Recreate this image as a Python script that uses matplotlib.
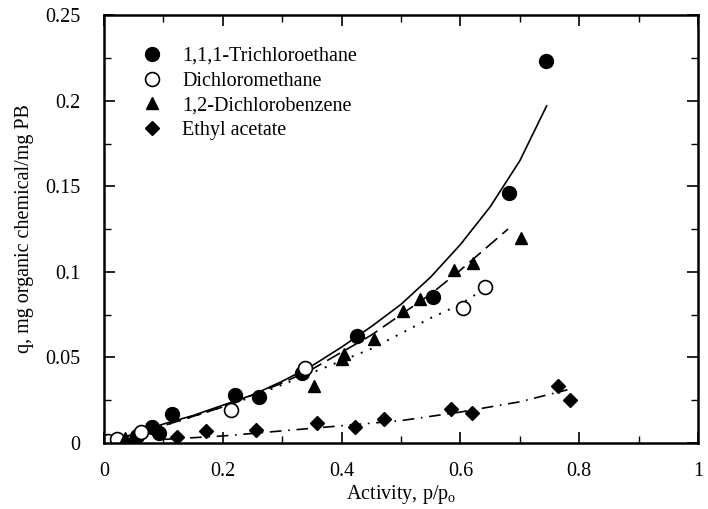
import matplotlib
matplotlib.use('Agg')
import matplotlib.pyplot as plt
from matplotlib.ticker import MultipleLocator

plt.rcParams['font.family'] = ['Liberation Serif', 'DejaVu Serif']
plt.rcParams['mathtext.fontset'] = 'custom'
plt.rcParams['mathtext.rm'] = 'Liberation Serif'
plt.rcParams['mathtext.it'] = 'Liberation Serif'

# measured points (activity, q)
tca_x = [0.055, 0.080, 0.092, 0.115, 0.221, 0.260, 0.334, 0.426, 0.554, 0.681, 0.744]
tca_y = [0.004, 0.009, 0.006, 0.017, 0.028, 0.027, 0.041, 0.0625, 0.085, 0.146, 0.223]

dcm_x = [0.007, 0.021, 0.063, 0.213, 0.338, 0.604, 0.642]
dcm_y = [0.001, 0.002, 0.0065, 0.019, 0.044, 0.079, 0.091]

dcb_x = [0.035, 0.085, 0.354, 0.400, 0.404, 0.454, 0.504, 0.532, 0.589, 0.621, 0.702]
dcb_y = [0.003, 0.009, 0.033, 0.049, 0.052, 0.061, 0.077, 0.084, 0.101, 0.105, 0.120]

ea_x = [0.048, 0.123, 0.171, 0.255, 0.359, 0.423, 0.471, 0.584, 0.619, 0.764, 0.784]
ea_y = [0.001, 0.0035, 0.007, 0.0076, 0.0117, 0.0095, 0.014, 0.020, 0.0175, 0.033, 0.025]

# fitted curves
tca_fit_x = [0, 0.05, 0.1, 0.15, 0.2, 0.25, 0.3, 0.35, 0.4, 0.45, 0.5, 0.55, 0.6, 0.65, 0.7, 0.745]
tca_fit_y = [0, 0.005, 0.011, 0.016, 0.022, 0.028, 0.036, 0.045, 0.056, 0.068, 0.081, 0.097, 0.116, 0.138, 0.165, 0.197]

dcb_fit_x = [0, 0.1, 0.2, 0.3, 0.35, 0.4, 0.45, 0.5, 0.55, 0.6, 0.65, 0.68]
dcb_fit_y = [0, 0.010, 0.021, 0.035, 0.043, 0.053, 0.063, 0.075, 0.087, 0.101, 0.116, 0.125]

dcm_fit_x = [0, 0.1, 0.2, 0.25, 0.3, 0.35, 0.4, 0.45, 0.5, 0.55, 0.6, 0.64]
dcm_fit_y = [0, 0.010, 0.021, 0.027, 0.034, 0.041, 0.048, 0.055, 0.064, 0.073, 0.081, 0.090]

ea_fit_x = [0.1, 0.2, 0.3, 0.4, 0.5, 0.6, 0.7, 0.78]
ea_fit_y = [0.002, 0.004, 0.007, 0.010, 0.013, 0.018, 0.024, 0.031]

x_ticks = [0, 0.2, 0.4, 0.6, 0.8, 1.0]
x_tick_labels = ['0', '0.2', '0.4', '0.6', '0.8', '1']
y_ticks = [0, 0.05, 0.1, 0.15, 0.2, 0.25]
y_tick_labels = ['0', '0.05', '0.1', '0.15', '0.2', '0.25']

fig = plt.figure(figsize=(7.08, 5.09), dpi=100)
ax = fig.add_axes([0.147, 0.130, 0.839, 0.840])

ax.plot(tca_fit_x, tca_fit_y, color='black', lw=1.2, ls='-')
ax.plot(dcb_fit_x, dcb_fit_y, color='black', lw=1.2, ls=(0, (9, 4)))
ax.plot(dcm_fit_x, dcm_fit_y, color='black', lw=1.4, ls=(0, (1, 4)))
ax.plot(ea_fit_x, ea_fit_y, color='black', lw=1.2, ls=(0, (7, 4, 1, 4)))

ax.plot(tca_x, tca_y, 'o', ms=10, mfc='black', mec='black', ls='none',
        label='1,1,1-Trichloroethane')
ax.plot(dcm_x, dcm_y, 'o', ms=10, mfc='white', mec='black', mew=1.2, ls='none',
        label='Dichloromethane')
ax.plot(dcb_x, dcb_y, '^', ms=9, mfc='black', mec='black', ls='none',
        label='1,2-Dichlorobenzene')
ax.plot(ea_x, ea_y, 'D', ms=7, mfc='black', mec='black', ls='none',
        label='Ethyl acetate')

ax.set_xlim(0, 1)
ax.set_ylim(0, 0.25)
ax.set_xticks(x_ticks)
ax.set_xticklabels(x_tick_labels)
ax.set_yticks(y_ticks)
ax.set_yticklabels(y_tick_labels)
ax.xaxis.set_minor_locator(MultipleLocator(0.1))
ax.yaxis.set_minor_locator(MultipleLocator(0.025))
ax.tick_params(which='both', direction='in', top=True, right=True, labelsize=14.5)
ax.tick_params(which='major', length=8, width=1.2)
ax.tick_params(which='minor', length=5, width=1.0)
ax.tick_params(axis='x', which='major', pad=14)
ax.tick_params(axis='y', which='major', pad=17)
for s in ax.spines.values():
    s.set_linewidth(1.8)

ax.set_xlabel(r'Activity, p/p$_{\mathrm{o}}$', fontsize=14.5, labelpad=1)
ax.set_ylabel('q, mg organic chemical/mg PB', fontsize=14.5, labelpad=8)

ax.legend(loc='upper left', bbox_to_anchor=(0.05, 0.945), frameon=False,
          fontsize=14.5, handletextpad=1.0, labelspacing=0.28, borderaxespad=0,
          handlelength=1.0)

fig.savefig('out.png', dpi=100)
